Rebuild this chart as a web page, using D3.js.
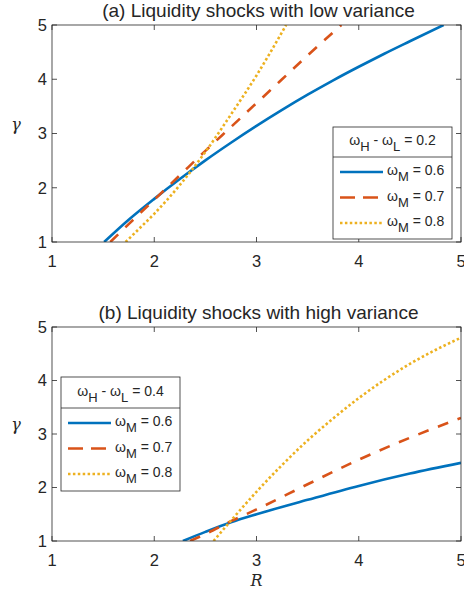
<!DOCTYPE html>
<html>
<head>
<meta charset="utf-8">
<script src="https://cdn.jsdelivr.net/npm/d3@7"></script>
<style>
  body { margin: 0; background: #fff; }
  svg text { font-family: "Liberation Sans", Arial, sans-serif; fill: #262626; }
</style>
</head>
<body>
<script>
// values, [R, gamma]
var lowM06 = [[1.51,1],[1.75,1.41],[2,1.795],[2.25,2.16],[2.5,2.505],[2.75,2.83],[3,3.14],[3.25,3.435],[3.5,3.715],[3.75,3.98],[4,4.23],[4.25,4.47],[4.5,4.7],[4.83,5]];
var lowM07 = [[1.57,1],[1.75,1.33],[2,1.78],[2.25,2.23],[2.5,2.68],[2.75,3.12],[3,3.56],[3.25,4.0],[3.5,4.44],[3.83,5]];
var lowM08 = [[1.72,1],[1.85,1.24],[2,1.52],[2.25,2.05],[2.5,2.66],[2.75,3.35],[3,4.07],[3.29,5]];

var highM06 = [[2.28,1],[2.5,1.17],[2.75,1.35],[3,1.5],[3.5,1.77],[4,2.03],[4.5,2.26],[5,2.46]];
var highM07 = [[2.35,1],[2.5,1.13],[2.75,1.37],[3,1.59],[3.5,2.06],[4,2.52],[4.5,2.93],[5,3.3]];
var highM08 = [[2.58,1],[2.75,1.38],[3,1.92],[3.25,2.42],[3.5,2.88],[3.75,3.29],[4,3.67],[4.25,4.01],[4.5,4.31],[4.75,4.57],[5,4.8]];

var xTicks = [1, 2, 3, 4, 5];
var yTicks = [1, 2, 3, 4, 5];
var omegaLabels = ["0.6", "0.7", "0.8"];
var colors = ["#0072BD", "#D95319", "#EDB120"];
var dashes = [null, "11,10", "2.5,2.4"];
var legendDashes = [null, "15,8", "2.5,2.4"];

var axisColor = "#262626";
var width = 464, height = 596;
var left = 52, right = 461;

var svg = d3.select("body").append("svg")
    .attr("width", width)
    .attr("height", height);

var x = d3.scaleLinear().domain([1, 5]).range([left, right]);

function panel(opt) {
  var y = d3.scaleLinear().domain([1, 5]).range([opt.bottom, opt.top]);
  var g = svg.append("g");

  g.append("clipPath").attr("id", opt.id)
    .append("rect")
      .attr("x", left).attr("y", opt.top)
      .attr("width", right - left).attr("height", opt.bottom - opt.top);

  // title
  g.append("text")
      .attr("x", (left + right) / 2 + 2)
      .attr("y", opt.top - 8)
      .attr("text-anchor", "middle")
      .style("font-size", "19px")
      .text(opt.title);

  // curves
  var line = d3.line()
      .x(function(d) { return x(d[0]); })
      .y(function(d) { return y(d[1]); })
      .curve(d3.curveMonotoneX);

  opt.series.forEach(function(s, i) {
    g.append("path")
        .datum(s)
        .attr("clip-path", "url(#" + opt.id + ")")
        .attr("fill", "none")
        .attr("stroke", colors[i])
        .attr("stroke-width", 2.6)
        .attr("stroke-dasharray", dashes[i])
        .attr("d", line);
  });

  // box with inward ticks on all sides
  var ax = g.append("g").attr("stroke", axisColor).attr("stroke-width", 0.8).attr("fill", "none");
  ax.append("rect")
      .attr("x", left).attr("y", opt.top)
      .attr("width", right - left).attr("height", opt.bottom - opt.top);
  xTicks.forEach(function(t) {
    ax.append("line").attr("x1", x(t)).attr("x2", x(t)).attr("y1", opt.bottom).attr("y2", opt.bottom - 5);
    ax.append("line").attr("x1", x(t)).attr("x2", x(t)).attr("y1", opt.top).attr("y2", opt.top + 5);
  });
  yTicks.forEach(function(t) {
    ax.append("line").attr("x1", left).attr("x2", left + 5).attr("y1", y(t)).attr("y2", y(t));
    ax.append("line").attr("x1", right).attr("x2", right - 5).attr("y1", y(t)).attr("y2", y(t));
  });

  g.selectAll(".xt").data(xTicks).enter().append("text")
      .attr("x", function(d) { return x(d); })
      .attr("y", opt.bottom + 25)
      .attr("text-anchor", "middle")
      .style("font-size", "16.5px")
      .text(function(d) { return d; });

  g.selectAll(".yt").data(yTicks).enter().append("text")
      .attr("x", left - 5)
      .attr("y", function(d) { return y(d); })
      .attr("dy", "0.36em")
      .attr("text-anchor", "end")
      .style("font-size", "16.5px")
      .text(function(d) { return d; });

  // gamma label
  g.append("text")
      .attr("x", 16)
      .attr("y", (opt.top + opt.bottom) / 2 - 4)
      .attr("text-anchor", "middle")
      .style("font-family", "'DejaVu Serif', 'Liberation Serif', serif")
      .style("font-style", "italic")
      .style("font-size", "16px")
      .text("γ");

  // legend
  var L = opt.legend;
  var lg = g.append("g");
  lg.append("rect")
      .attr("x", L.x).attr("y", L.y)
      .attr("width", L.w).attr("height", L.h)
      .attr("fill", "#fff")
      .attr("stroke", axisColor).attr("stroke-width", 0.8);
  lg.append("line")
      .attr("x1", L.x).attr("x2", L.x + L.w)
      .attr("y1", L.y + L.div).attr("y2", L.y + L.div)
      .attr("stroke", axisColor).attr("stroke-width", 0.8);

  var head = lg.append("text")
      .attr("x", L.x + L.w / 2)
      .attr("y", L.y + L.div / 2 + 3)
      .attr("text-anchor", "middle")
      .style("font-size", "14px");
  head.append("tspan").text("ω");
  head.append("tspan").attr("dy", 6).style("font-size", "13px").text("H");
  head.append("tspan").attr("dy", -6).text(" - ω");
  head.append("tspan").attr("dy", 6).style("font-size", "13px").text("L");
  head.append("tspan").attr("dy", -6).text(" = " + opt.spread);

  omegaLabels.forEach(function(lab, i) {
    var yy = L.y + L.div + 15 + i * 25.5;
    lg.append("line")
        .attr("x1", L.x + 7).attr("x2", L.x + 50)
        .attr("y1", yy).attr("y2", yy)
        .attr("stroke", colors[i])
        .attr("stroke-width", 2.6)
        .attr("stroke-dasharray", legendDashes[i]);
    var t = lg.append("text")
        .attr("x", L.x + 54)
        .attr("y", yy + 3)
        .style("font-size", "14px");
    t.append("tspan").text("ω");
    t.append("tspan").attr("dy", 6).style("font-size", "13px").text("M");
    t.append("tspan").attr("dy", -6).text(" = " + lab);
  });
}

panel({
  id: "clipA", top: 25, bottom: 242,
  title: "(a) Liquidity shocks with low variance",
  series: [lowM06, lowM07, lowM08],
  spread: "0.2",
  legend: { x: 333, y: 127, w: 119, h: 112, div: 30 }
});

panel({
  id: "clipB", top: 327, bottom: 541,
  title: "(b) Liquidity shocks with high variance",
  series: [highM06, highM07, highM08],
  spread: "0.4",
  legend: { x: 61, y: 377, w: 119, h: 114, div: 31 }
});

// R label
svg.append("text")
    .attr("x", (left + right) / 2)
    .attr("y", 586)
    .attr("text-anchor", "middle")
    .style("font-family", "'DejaVu Serif', 'Liberation Serif', serif")
    .style("font-style", "italic")
    .style("font-size", "16px")
    .text("R");
</script>
</body>
</html>
